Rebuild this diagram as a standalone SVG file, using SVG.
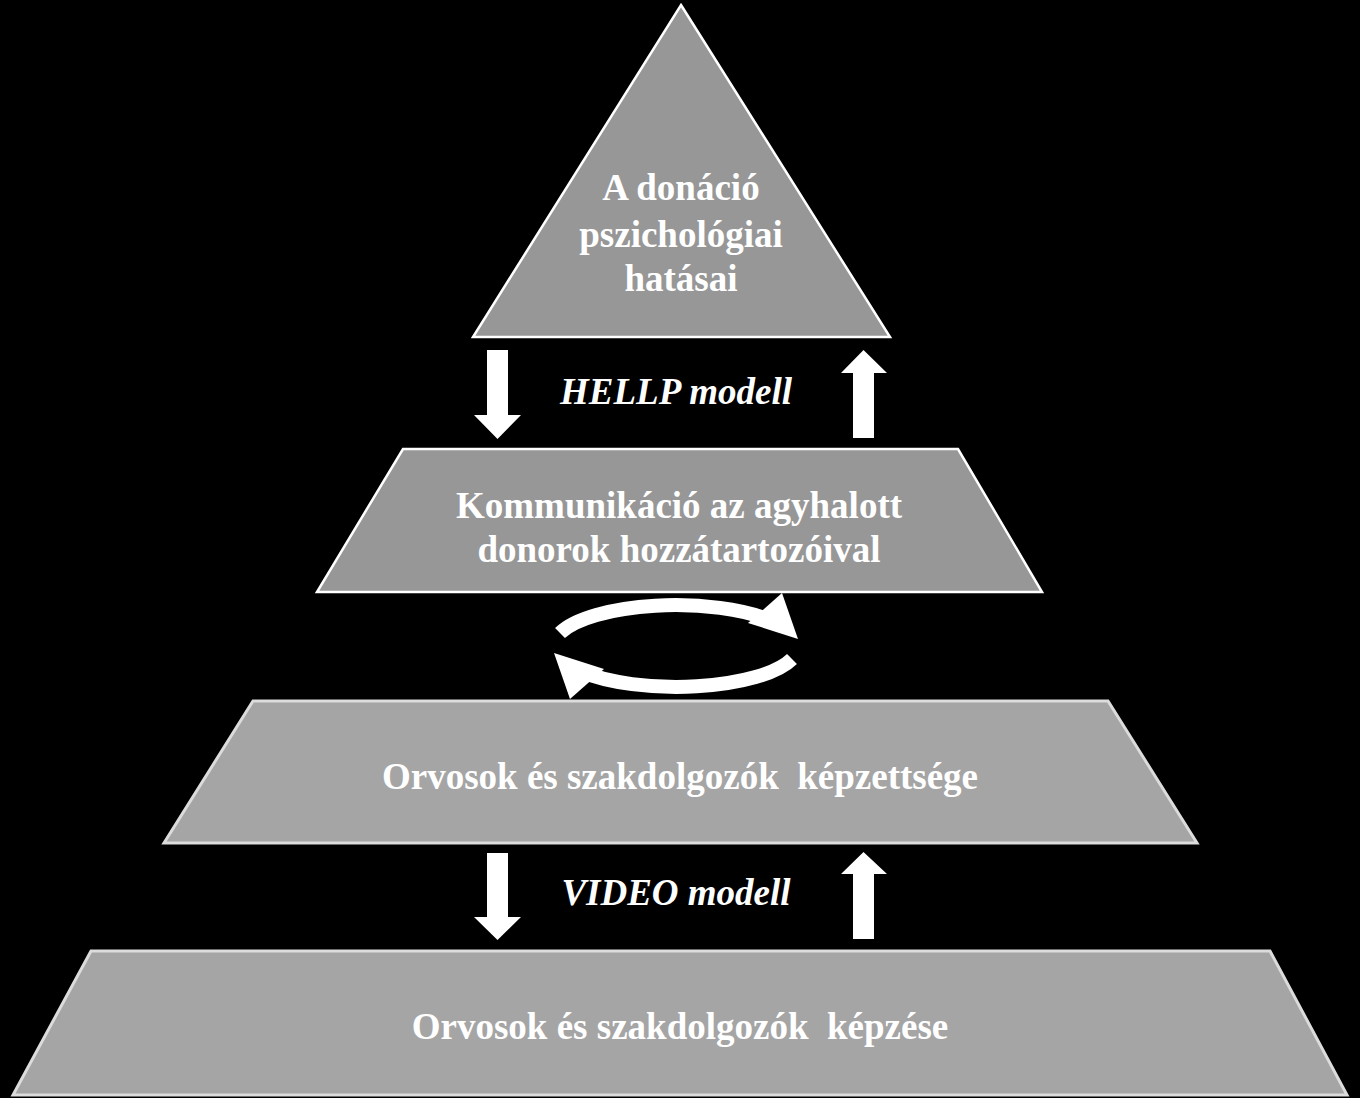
<svg xmlns="http://www.w3.org/2000/svg" width="1360" height="1098" viewBox="0 0 1360 1098">
<style>
.bg{fill:#000}
.n1{fill:#979797;stroke:#ffffff;stroke-width:2.5;stroke-linejoin:miter}
.n2{fill:#a5a5a5;stroke:#dcdcdc;stroke-width:3;stroke-linejoin:miter}
.t{font-family:"Liberation Serif","Times New Roman",serif;font-weight:bold;font-size:37px;fill:#ffffff;text-anchor:middle}
.lbl{font-family:"Liberation Serif","Times New Roman",serif;font-weight:bold;font-style:italic;font-size:37px;fill:#ffffff;text-anchor:middle}
.ar{fill:#ffffff}
.arc{fill:none;stroke:#ffffff;stroke-width:14;stroke-linecap:butt}
</style>
<rect class="bg" x="0" y="0" width="1360" height="1098"/>
<g id="node-top">
<polygon class="n1" points="681,5 890,337 473,337"/>
<text class="t" x="681" y="200">A donáció</text>
<text class="t" x="681" y="247">pszichológiai</text>
<text class="t" x="681" y="291">hatásai</text>
</g>
<g id="node-communication">
<polygon class="n1" points="403,449 958,449 1042,592 317,592"/>
<text class="t" x="679" y="518">Kommunikáció az agyhalott</text>
<text class="t" x="679" y="562">donorok hozzátartozóival</text>
</g>
<g id="node-qualification">
<polygon class="n2" points="253,701 1108,701 1197,843 164,843"/>
<text class="t" x="680" y="789" xml:space="preserve">Orvosok és szakdolgozók  képzettsége</text>
</g>
<g id="node-training">
<polygon class="n2" points="91,951 1270,951 1347,1095 13,1095"/>
<text class="t" x="680" y="1039" xml:space="preserve">Orvosok és szakdolgozók  képzése</text>
</g>
<g id="connectors">
<polygon class="ar" points="487,350 508,350 508,415 521,415 497.5,439 474,415 487,415"/>
<polygon class="ar" points="863.5,350 887,373 874,373 874,438 853,438 853,373 841,373"/>
<text class="lbl" x="676" y="404">HELLP modell</text>
<polygon class="ar" points="487,853 508,853 508,917 521,917 497.5,940 474,917 487,917"/>
<polygon class="ar" points="863.5,852 887,874 874,874 874,939 853,939 853,874 841,874"/>
<text class="lbl" x="676" y="905">VIDEO modell</text>
<g id="cycle">
<path class="arc" d="M560,633 A122,41 0 0 1 772,621"/>
<polygon class="ar" points="782,593 798,639 748,623"/>
<g transform="rotate(180 676 646)">
<path class="arc" d="M560,633 A122,41 0 0 1 772,621"/>
<polygon class="ar" points="782,593 798,639 748,623"/>
</g>
</g>
</g>
</svg>
